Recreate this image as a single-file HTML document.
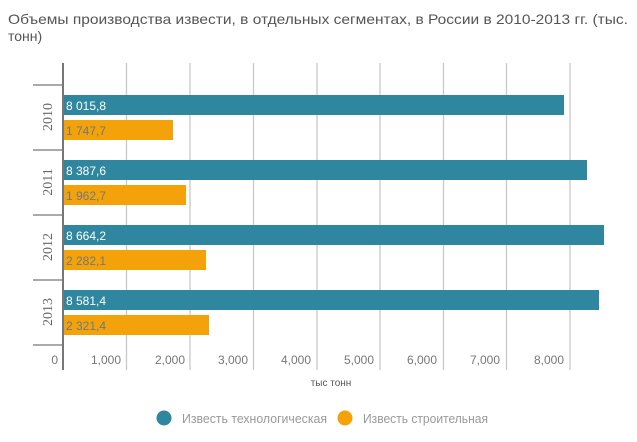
<!DOCTYPE html>
<html><head><meta charset="utf-8"><style>
body{margin:0;width:637px;height:437px;background:#fff;overflow:hidden;font-family:"Liberation Sans","DejaVu Sans",sans-serif;}
</style></head><body>
<svg width="637" height="437" xmlns="http://www.w3.org/2000/svg" font-family="Liberation Sans, DejaVu Sans, sans-serif">
<text x="8" y="24" font-size="14" fill="#555" textLength="620" lengthAdjust="spacingAndGlyphs">Объемы производства извести, в отдельных сегментах, в России в 2010-2013 гг. (тыс.</text>
<text x="8" y="41" font-size="14" fill="#555">тонн)</text>
<g stroke="#c8c8c8" stroke-width="1.3">
<line x1="126.5" y1="63" x2="126.5" y2="370"/><line x1="190" y1="63" x2="190" y2="370"/>
<line x1="253.5" y1="63" x2="253.5" y2="370"/><line x1="317" y1="63" x2="317" y2="370"/>
<line x1="380" y1="63" x2="380" y2="370"/><line x1="443.5" y1="63" x2="443.5" y2="370"/>
<line x1="506.5" y1="63" x2="506.5" y2="370"/><line x1="570" y1="63" x2="570" y2="370"/>
</g>
<g fill="#2e879e">
<rect x="64" y="95" width="500" height="20"/><rect x="64" y="160" width="523" height="20"/>
<rect x="64" y="225" width="540" height="20"/><rect x="64" y="290" width="535" height="20"/>
</g>
<g fill="#f4a20a">
<rect x="64" y="120" width="109" height="20"/><rect x="64" y="185" width="122" height="20"/>
<rect x="64" y="250" width="142" height="20"/><rect x="64" y="315" width="145" height="20"/>
</g>
<g font-size="12" fill="#fff"><text x="66" y="110">8 015,8</text><text x="66" y="175">8 387,6</text><text x="66" y="240">8 664,2</text><text x="66" y="305">8 581,4</text></g>
<g font-size="12" fill="#6d7a80"><text x="66" y="135">1 747,7</text><text x="66" y="200">1 962,7</text><text x="66" y="265">2 282,1</text><text x="66" y="330">2 321,4</text></g>
<g stroke="#777" stroke-width="1.3">
<line x1="63" y1="63" x2="63" y2="370" stroke-width="2"/>
<line x1="33" y1="85" x2="63" y2="85"/><line x1="33" y1="150" x2="63" y2="150"/>
<line x1="33" y1="215" x2="63" y2="215"/><line x1="33" y1="280" x2="63" y2="280"/><line x1="33" y1="345" x2="63" y2="345"/>
</g>
<g font-size="14" fill="#666" font-family="Liberation Serif, serif" text-anchor="middle">
<text transform="translate(52,117) rotate(-90)">2010</text><text transform="translate(52,182) rotate(-90)">2011</text>
<text transform="translate(52,247) rotate(-90)">2012</text><text transform="translate(52,312) rotate(-90)">2013</text>
</g>
<g font-size="12" fill="#777" text-anchor="end">
<text x="58" y="364">0</text><text x="121" y="364">1,000</text><text x="185" y="364">2,000</text><text x="248" y="364">3,000</text>
<text x="311" y="364">4,000</text><text x="374" y="364">5,000</text><text x="437" y="364">6,000</text><text x="500" y="364">7,000</text><text x="564" y="364">8,000</text>
</g>
<text x="331" y="386" font-size="10" fill="#555" text-anchor="middle">тыс тонн</text>
<circle cx="164" cy="418" r="7.5" fill="#2e879e"/><text x="182" y="423" font-size="13" fill="#999" textLength="145" lengthAdjust="spacingAndGlyphs">Известь технологическая</text>
<circle cx="345" cy="418" r="7.5" fill="#f4a20a"/><text x="363" y="423" font-size="13" fill="#999" textLength="125" lengthAdjust="spacingAndGlyphs">Известь строительная</text>
</svg>
</body></html>
